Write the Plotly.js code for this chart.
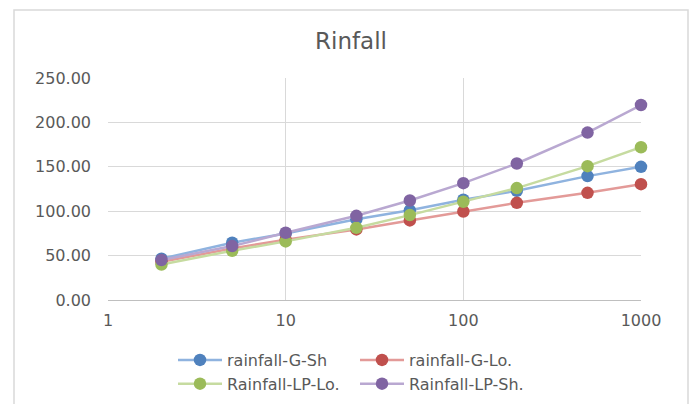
<!DOCTYPE html>
<html>
<head>
<meta charset="utf-8">
<script src="https://cdn.plot.ly/plotly-3.0.1.min.js"></script>
<style>
  html, body { margin: 0; padding: 0; background: #fff; }
  #chart { width: 691px; height: 404px; }
</style>
</head>
<body>
<div id="chart"></div>
<script>
// Data
const returnPeriods = [2, 5, 10, 25, 50, 100, 200, 500, 1000];
const rainfallGSh  = [46.5, 64.5, 75.0, 91.0, 101.0, 113.0, 123.0, 139.5, 150.0];
const rainfallGLo  = [43.0, 58.0, 68.0, 79.5, 89.6, 99.7, 109.4, 120.7, 130.4];
const rainfallLPLo = [40.0, 55.5, 66.0, 81.3, 95.6, 110.6, 126.0, 150.7, 172.0];
const rainfallLPSh = [45.0, 60.7, 75.7, 94.8, 112.0, 131.6, 153.7, 188.5, 219.6];
const seriesNames = ['rainfall-G-Sh', 'rainfall-G-Lo.', 'Rainfall-LP-Lo.', 'Rainfall-LP-Sh.'];
const xTickVals = [1, 10, 100, 1000];
const xTickText = ['1', '10', '100', '1000'];
const chartTitle = 'Rinfall';

const markerColors = ['#4f81bd', '#c0504d', '#9bbb59', '#8064a2'];
const lineColors   = ['#8fb3df', '#e39a98', '#c6dba0', '#b9a8d1'];
const seriesValues = [rainfallGSh, rainfallGLo, rainfallLPLo, rainfallLPSh];

const font = "'DejaVu Sans', 'Liberation Sans', sans-serif";

const traces = seriesValues.map((vals, i) => ({
  x: returnPeriods,
  y: vals,
  name: seriesNames[i],
  type: 'scatter',
  mode: 'lines+markers',
  line: { color: lineColors[i], width: 2.5 },
  marker: { color: markerColors[i], size: 12.5 },
  cliponaxis: false
}));

const pxToPaperX = px => (px - 108) / 533;
const pxToPaperY = py => (300 - py) / 222;

const layout = {
  width: 691,
  height: 404,
  margin: { l: 108, r: 50, t: 78, b: 104, autoexpand: false },
  paper_bgcolor: '#ffffff',
  plot_bgcolor: '#ffffff',
  font: { family: font, color: '#595959', size: 16 },
  title: {
    text: chartTitle,
    font: { family: font, size: 23, color: '#595959' },
    x: 351 / 691, xref: 'container', xanchor: 'center',
    y: 1 - 41 / 404, yref: 'container', yanchor: 'middle'
  },
  xaxis: {
    type: 'log',
    range: [0, 3],
    tickvals: xTickVals,
    ticktext: xTickText,
    showgrid: true,
    gridcolor: '#d9d9d9',
    gridwidth: 1,
    showline: true,
    linecolor: '#bfbfbf',
    linewidth: 1,
    ticks: '',
    zeroline: false,
    tickfont: { family: font, size: 16, color: '#595959' },
    ticklabelstandoff: 6
  },
  yaxis: {
    range: [0, 250],
    dtick: 50,
    tick0: 0,
    tickformat: '.2f',
    showgrid: true,
    gridcolor: '#d9d9d9',
    gridwidth: 1,
    showline: false,
    zeroline: false,
    ticks: '',
    tickfont: { family: font, size: 16, color: '#595959' },
    ticklabelstandoff: 16
  },
  showlegend: true,
  legend: {
    orientation: 'h',
    x: pxToPaperX(173),
    xanchor: 'left',
    y: pxToPaperY(343),
    yanchor: 'top',
    itemwidth: 44,
    entrywidth: 123,
    tracegroupgap: 0,
    font: { family: font, size: 16, color: '#595959' },
    bgcolor: 'rgba(0,0,0,0)'
  },
  shapes: [{
    type: 'rect',
    xref: 'paper', yref: 'paper',
    x0: pxToPaperX(14), x1: pxToPaperX(688),
    y0: pxToPaperY(420), y1: pxToPaperY(10),
    line: { color: '#d9d9d9', width: 1.5 },
    fillcolor: 'rgba(0,0,0,0)',
    layer: 'below'
  }]
};

Plotly.newPlot('chart', traces, layout, { displayModeBar: false, staticPlot: true });
</script>
</body>
</html>
